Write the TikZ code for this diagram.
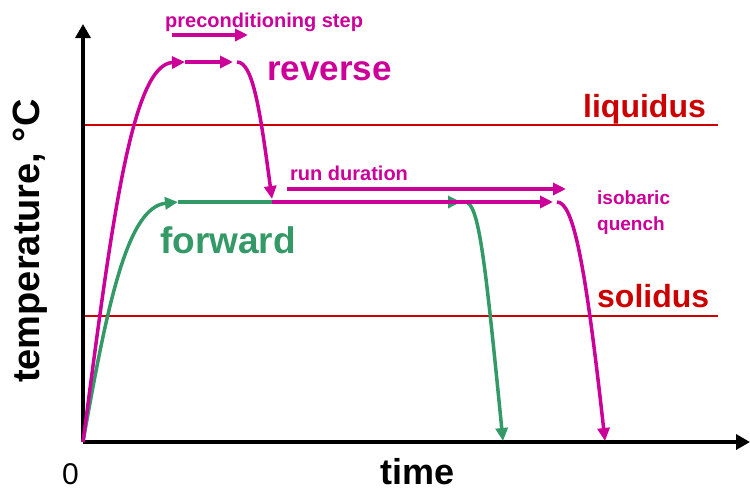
\documentclass[tikz,border=0pt]{standalone}
\usepackage{fontspec}
\setmainfont{Liberation Sans}
\usetikzlibrary{arrows.meta}
\definecolor{mag}{RGB}{204,0,153}
\definecolor{grn}{RGB}{51,153,102}
\definecolor{rd}{RGB}{204,0,0}
\begin{document}
\begin{tikzpicture}[x=1pt,y=-1pt,
  axis/.style={line width=4.5pt,-{Triangle[length=14pt,width=15pt]}},
  curve/.style={line width=3.5pt,-{Triangle[length=13pt,width=12pt]}},
  level/.style={rd,line width=2.5pt},
  lbl/.style={inner sep=0pt,anchor=base west}]
\useasboundingbox (0,0) rectangle (750,491);
% key points
\coordinate (O) at (83,442);
\coordinate (ytop) at (83,24);
\coordinate (xend) at (750,442);
\coordinate (liqL) at (83,125);
\coordinate (liqR) at (718,125);
\coordinate (solL) at (83,316);
\coordinate (solR) at (718,316);
% level lines
\draw[level] (liqL) -- (liqR);
\draw[level] (solL) -- (solR);
% axes
\draw[axis] (O) -- (ytop);
\draw[axis] (O) -- (xend);
% green (forward)
\coordinate (g1) at (178,202);
\coordinate (g2) at (461,202);
\coordinate (g3) at (465,202);
\coordinate (g4) at (503,441);
\draw[curve,grn] (O) .. controls (108,300) and (128,207) .. (g1);
\draw[curve,grn] (g1) -- (g2);
\draw[curve,grn] (g3) .. controls (479,202) and (485,260) .. (g4);
% magenta (reverse)
\coordinate (m1) at (185,62);
\coordinate (m2) at (233,62);
\coordinate (m3) at (237,62);
\coordinate (m4) at (272,199);
\coordinate (m5) at (272,202);
\coordinate (m6) at (553,202);
\coordinate (m7) at (557,202);
\coordinate (m8) at (605,441);
\draw[curve,mag] (O) .. controls (112,220) and (132,64) .. (m1);
\draw[curve,mag] (m1) -- (m2);
\draw[curve,mag] (m3) .. controls (253,62) and (260,110) .. (m4);
\draw[curve,mag] (m5) -- (m6);
\draw[curve,mag] (m7) .. controls (573,202) and (585,260) .. (m8);
% annotation arrows
\coordinate (p1) at (172,35);
\coordinate (p2) at (248,35);
\coordinate (r1) at (287,189);
\coordinate (r2) at (566,189);
\draw[curve,mag] (p1) -- (p2);
\draw[curve,mag] (r1) -- (r2);
% labels
\node[lbl,mag,font=\bfseries\fontsize{20}{24}\selectfont] (tprec) at (165,27) {preconditioning step};
\node[lbl,mag,font=\bfseries\fontsize{20}{24}\selectfont] (trun) at (290,180) {run duration};
\node[lbl,mag,font=\bfseries\fontsize{35}{40}\selectfont] (trev) at (267,80) {reverse};
\node[lbl,grn,font=\bfseries\fontsize{37}{40}\selectfont] (tfwd) at (160,253) {forward};
\node[lbl,rd,font=\bfseries\fontsize{32}{36}\selectfont] (tliq) at (583,117) {liquidus};
\node[lbl,rd,font=\bfseries\fontsize{32}{36}\selectfont] (tsol) at (597,307) {solidus};
\node[lbl,mag,font=\bfseries\fontsize{19}{26}\selectfont,align=left] (tiso) at (597,230) {isobaric\\quench};
\node[lbl,font=\bfseries\fontsize{36}{40}\selectfont] (ttime) at (380,484) {time};
\node[lbl,font=\fontsize{30}{34}\selectfont] (tzero) at (62,484) {0};
\node[lbl,rotate=90,font=\bfseries\fontsize{38}{42}\selectfont] (ttemp) at (39,383) {temperature, °C};
\end{tikzpicture}
\end{document}
